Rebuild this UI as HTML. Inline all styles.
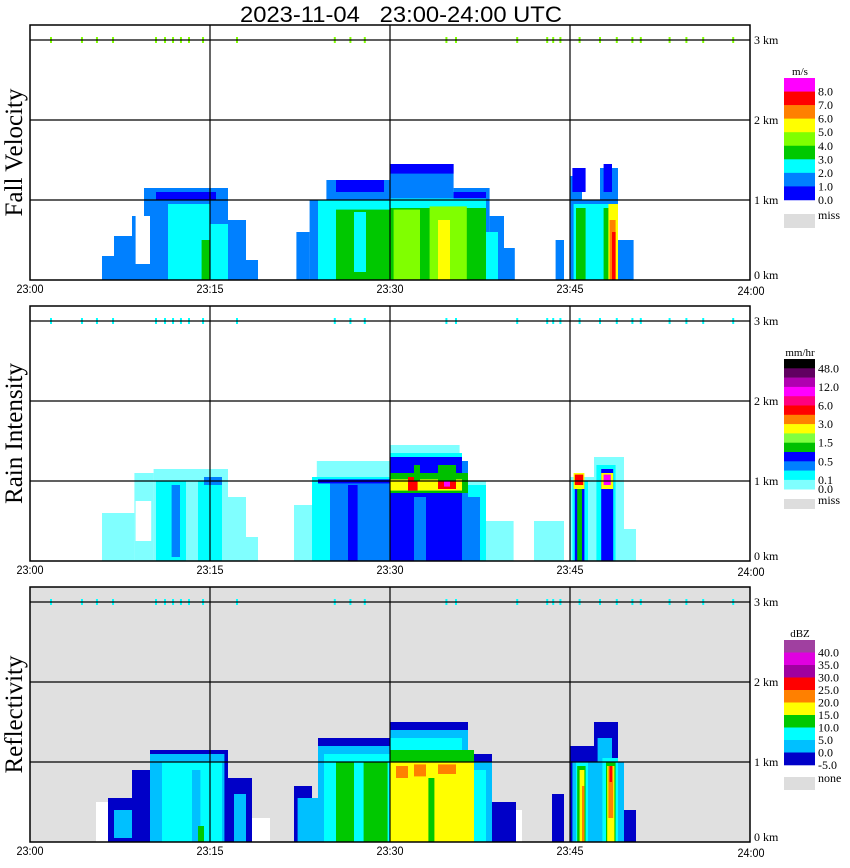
<!DOCTYPE html>
<html><head><meta charset="utf-8"><style>
html,body{margin:0;padding:0;background:#fff;width:850px;height:868px;overflow:hidden}
svg{display:block}
</style></head><body>
<svg id="chart" width="850" height="868" xmlns="http://www.w3.org/2000/svg">
<text x="401" y="22" text-anchor="middle" font-family="Liberation Sans, sans-serif" font-size="22" textLength="322" lengthAdjust="spacingAndGlyphs" style="white-space:pre" xml:space="preserve">2023-11-04   23:00-24:00 UTC</text>
<g id="panels"></g>
</svg>
<script>
// ---- data (time in minutes after 23:00, height in km) ----
const xTickLabels = ["23:00","23:15","23:30","23:45","24:00"];
const xTickMinutes = [0,15,30,45,60];
const yTickLabels = ["0 km","1 km","2 km","3 km"];
const yTickKm = [0,1,2,3];
const clutterMinutes = [1.75,4.33,5.58,6.92,10.5,11.25,11.92,12.58,13.25,14.42,17.25,25.4,26.7,27.9,34.7,35.5,40.6,43.1,43.6,44.2,45.8,47.5,48.9,50.2,50.9,53.3,54.7,56.1,58.6];

const fvLabels = ["8.0","7.0","6.0","5.0","4.0","3.0","2.0","1.0","0.0"];
const riLabels = ["48.0","","12.0","","6.0","","3.0","","1.5","","0.5","","0.1","0.0"];
const zLabels = ["40.0","35.0","30.0","25.0","20.0","15.0","10.0","5.0","0.0","-5.0"];

// bands: start min, end min, bottom km, top km, level (-1 = white)
const fvStart = [6,7,8.5,9.5,16.5,18,10.5,8.8,11.5,15,14.3, 22.2,23.3,24.7,30,35.3,38.3,39.5,25.5,30,35.3,24,30,38,25.5,30,27,30.3,33.3,34, 43.8,45,46,47.5,49,45.2,47.8,45.3,45.5,47.8,48.2,48.3,48.5];
const fvEnd   = [7,8.5,9.5,16.5,18,19,15.5,10,15,16.5,15, 23.3,24.7,30,35.3,38.3,39.5,40.4,29.5,35.3,38,30,38,39,30,38,28,32.5,36.4,35, 44.5,46,47.5,49,50.3,46.3,48.5,49,46.3,49,49,48.8,48.8];
const fvBot   = [0,0,0,0,0,0,1.0,0.2,0,0,0, 0,0,0,0,0,0,0,1.1,1.33,1.0,0,0,0,0,0,0.1,0,0,0, 0,0,0,0,0,1.1,1.1,0,0,0,0,0,0];
const fvTop   = [0.3,0.55,0.8,1.15,0.75,0.25,1.1,0.8,0.95,0.7,0.5, 0.6,1.0,1.25,1.45,1.15,0.8,0.4,1.25,1.45,1.1,1.0,1.02,0.6,0.88,0.9,0.85,0.88,0.92,0.75, 0.5,1.3,1.0,1.4,0.5,1.4,1.45,0.95,0.9,0.9,0.95,0.75,0.6];
const fvLevel = [1,1,1,1,1,1,0,-1,2,2,3, 1,1,1,1,1,1,1,0,0,0,2,2,2,3,3,2,4,4,5, 1,1,1,1,1,0,0,2,3,3,5,6,7];

const riStart = [6,8.7,10.3,16.5,18,8.8,10.5,11.8,14,14.5, 22,23.9,30,35.8,38,23.5,30,36,25,30,36.5,30,26.5,24,32,30,30,31.5,34,34.5,32,34, 42,45,47,49.5,45.2,47.2,45.4,47.6,45.6,45.3,47.6,45.4,47.8];
const riEnd   = [8.7,10.3,16.5,18,19,10.1,13,12.5,16,16,23.9,30,35.8,38,40.3,30,36,38,30,36.5,37.5,36,27.3,30,33,36.5,36,32.3,35.5,35,32.5,35.5, 44.5,47,49.5,50.5,46.5,48.8,46.2,48.6,46,46.2,48.6,46.1,48.4];
const riBot   = [0,0,0,0,0,0.25,0,0.05,0,0.95, 0,0,0,0,0,0,0,0,0,0,0,0,0,0.97,0,0.85,0.88,0.88,0.9,0.93,1.0,1.0, 0,0,0,0,0,0,0,0,0,0.9,0.9,0.95,0.95];
const riTop   = [0.6,1.1,1.15,0.8,0.3,0.75,1.0,0.95,1.0,1.05, 0.7,1.25,1.45,1.0,0.5,1.05,1.35,0.95,1.0,1.25,0.8,1.3,0.95,1.02,0.8,1.1,1.02,1.05,1.02,1.0,1.2,1.2, 0.5,1.05,1.3,0.4,1.0,1.2,1.0,1.15,0.9,1.1,1.1,1.08,1.08];
const riLevel = [0,0,0,0,0,-1,1,2,1,2, 0,0,0,0,0,1,1,1,2,2,2,3,3,3,2,4,6,8,8,10,4,4, 0,0,0,0,1,1,3,3,4,6,6,8,10];

const zStart = [5.5,17.5,6.5,8.5,10,16.5,7,10,17,11,13.5,14, 38.5,22,24,30,36.5,38.5,22.3,24,30,36.5,24.5,30,36,25.5,30,27,30,33.2,30.5,32,34, 43.5,45,47,49,45.2,47.3,45.5,47.7,45.6,48,45.8,48.1,46,48.2,48.3];
const zEnd   = [7.5,20,8.5,10,16.5,18.5,8.5,16.2,18,16,14.2,14.5, 41,23.5,30,36.5,38.5,40.5,24,30,36.5,38.5,30,36,38,29.8,37,27.8,37,33.7,31.5,33,35.5, 44.5,47,49,50.5,49.5,48.5,46.5,49,46.3,48.8,46.2,48.7,46.2,48.6,48.5];
const zBot   = [0,0,0,0,0,0,0.05,0,0,0,0,0, 0,0,0,0,0,0,0,0,0,0,0,0,0,0,0,0,0,0,0.8,0.82,0.85, 0,0,0,0,0,1.0,0,0,0,0,0,0,0,0.3,0.75];
const zTop   = [0.5,0.3,0.55,0.9,1.15,0.8,0.4,1.1,0.6,1.0,0.9,0.2, 0.4,0.7,1.3,1.5,1.1,0.5,0.55,1.2,1.4,1.0,1.1,1.3,0.9,1.0,1.15,1.0,1.0,0.8,0.95,0.97,0.97, 0.6,1.2,1.5,0.4,1.0,1.3,1.0,1.05,0.95,1.0,0.9,0.95,0.7,0.95,0.95];
const zLevel = [-1,-1,0,0,0,0,1,1,1,2,1,3, -1,0,0,0,0,0,1,1,1,1,2,2,2,3,3,2,4,3,5,5,5, 0,0,0,0,1,1,2,2,3,3,4,4,5,5,6];

// ---- styles ----
const fvColors = ["#0000ff","#0080ff","#00ffff","#00c800","#80ff00","#ffff00","#ff8000","#ff0000","#ff00ff"];
const riColors = ["#80ffff","#00ffff","#0080ff","#0000ff","#00c000","#80ff40","#ffff00","#ff8000","#ff0000","#ff0080","#ff00ff","#b000b0","#600060","#000000"];
const zColors = ["#0000c8","#00c0ff","#00ffff","#00c800","#ffff00","#ff8000","#ff0000","#a000a0","#e000e0","#a040a0"];

const NS="http://www.w3.org/2000/svg";
const root=document.getElementById('panels');
function mk(tag,attrs,parent){const e=document.createElementNS(NS,tag);for(const k in attrs)e.setAttribute(k,attrs[k]);(parent||root).appendChild(e);return e;}
const X0=30,X1=750;
function xOf(m){return X0+(X1-X0)*m/60;}

const panels=[
 {name:"fall-velocity",title:"Fall Velocity",top:25,base:280,bg:"#ffffff",colors:fvColors,s:fvStart,e:fvEnd,b:fvBot,t:fvTop,l:fvLevel,clutter:"#80ff00",
  cb:{top:78,h:13.55,labels:fvLabels,unit:"m/s",missTop:214,missH:14,miss:"miss"}},
 {name:"rain-intensity",title:"Rain Intensity",top:306,base:561,bg:"#ffffff",colors:riColors,s:riStart,e:riEnd,b:riBot,t:riTop,l:riLevel,clutter:"#00ffff",
  cb:{top:359,h:9.3,labels:riLabels,unit:"mm/hr",missTop:499,missH:10,miss:"miss"}},
 {name:"reflectivity",title:"Reflectivity",top:587,base:842,bg:"#e0e0e0",colors:zColors,s:zStart,e:zEnd,b:zBot,t:zTop,l:zLevel,clutter:"#00ffff",
  cb:{top:640,h:12.5,labels:zLabels,unit:"dBZ",missTop:777,missH:13,miss:"none"}}
];

panels.forEach((p,pi)=>{
  const g=mk('g',{});
  
  
  const pxkm=80;
  const yOf=h=>p.base-h*pxkm;
  const bg=mk('rect',{x:X0,y:p.top,width:X1-X0,height:p.base-p.top,fill:p.bg},g);
  
  
  for(let i=0;i<p.s.length;i++){
    const lv=p.l[i];
    const fill= lv<0 ? "#ffffff" : p.colors[lv];
    const r=mk('rect',{x:xOf(p.s[i]),y:yOf(p.t[i]),width:xOf(p.e[i])-xOf(p.s[i]),height:(p.t[i]-p.b[i])*pxkm,fill:fill},g);
    
    
  }
  clutterMinutes.forEach(m=>{
    const c=mk('rect',{x:xOf(m)-1,y:yOf(3)-3,width:2,height:6,fill:p.clutter},g);
    
    
  });
  yTickKm.forEach((k,i)=>{
    if(k>0){const ln=mk('line',{x1:X0,x2:X1,y1:yOf(k),y2:yOf(k),stroke:"#000","stroke-width":1.2},g);
      
      }
    const tx=mk('text',{x:X1+4,y:yOf(k)+(k===0?-1:4),"font-family":"Liberation Serif, serif","font-size":"12"},g);
    tx.textContent=yTickLabels[i];
    
    
  });
  xTickMinutes.forEach((m,i)=>{
    if(m>0&&m<60){const ln=mk('line',{x1:xOf(m),x2:xOf(m),y1:p.top,y2:p.base,stroke:"#000","stroke-width":1.2},g);
      
      }
    const tx=mk('text',{x:xOf(m)+(m===60?1:0),y:p.base+(m===60?15:13),"text-anchor":"middle","font-family":"Liberation Sans, sans-serif","font-size":"12",textLength:"27",lengthAdjust:"spacingAndGlyphs"},g);
    tx.textContent=xTickLabels[i];
    
    
  });
  const fr=mk('rect',{x:X0,y:p.top,width:X1-X0,height:p.base-p.top,fill:"none",stroke:"#000","stroke-width":1.5},g);
  
  
  const cy=(p.top+p.base)/2;
  const yt=mk('text',{x:22,y:cy,transform:`rotate(-90 22 ${cy})`,"text-anchor":"middle","font-family":"Liberation Serif, serif","font-size":"25"},g);
  yt.textContent=p.title;
  
  
  const cb=p.cb;const n=p.colors.length;
  const lg=mk('g',{},g);
  
  
  for(let k=0;k<n;k++){
    const col=p.colors[n-1-k];
    const r=mk('rect',{x:784,y:cb.top+k*cb.h,width:31,height:cb.h+0.3,fill:col},lg);
    
    
    const lab=cb.labels[k];
    if(lab){const t=mk('text',{x:818,y:cb.top+(k+1)*cb.h+4,"font-family":"Liberation Serif, serif","font-size":"12"},lg);
      t.textContent=lab;
      
      }
  }
  const u=mk('text',{x:800,y:cb.top-3,"text-anchor":"middle","font-family":"Liberation Serif, serif","font-size":"11"},lg);
  u.textContent=cb.unit;
  
  
  const mr=mk('rect',{x:784,y:cb.missTop,width:31,height:cb.missH,fill:"#dddddd"},lg);
  
  
  const mt=mk('text',{x:818,y:cb.missTop+5,"font-family":"Liberation Serif, serif","font-size":"12"},lg);
  mt.textContent=cb.miss;
  
  
});
</script>
</body></html>
